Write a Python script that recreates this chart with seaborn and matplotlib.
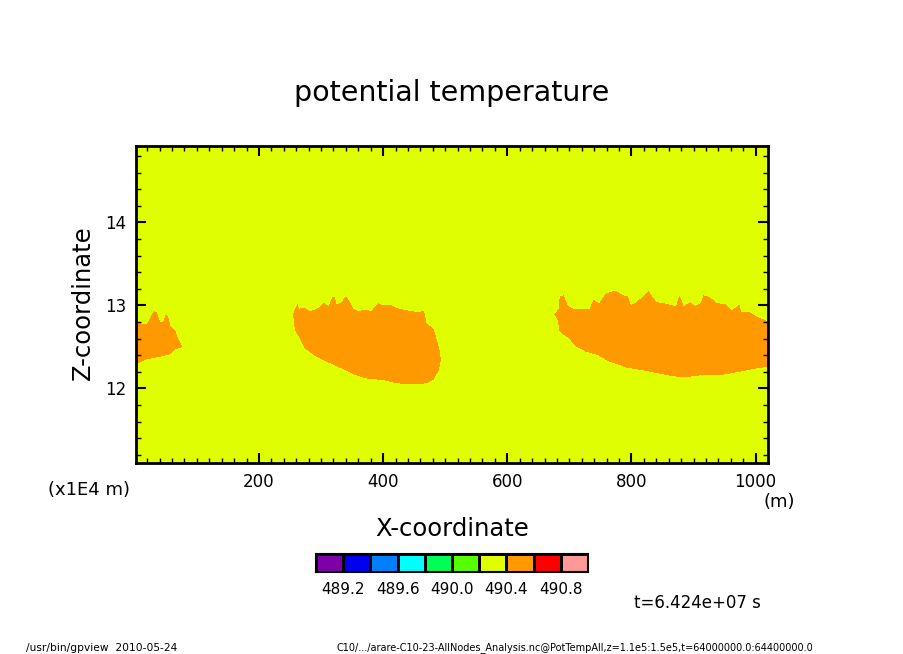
"""
plot.py - gpview style section of potential temperature, drawn with seaborn.
"""
import matplotlib
matplotlib.use("Agg")
import matplotlib.pyplot as plt
import numpy as np
import seaborn as sns
from matplotlib.colors import ListedColormap
from matplotlib.path import Path

TITLE = "potential temperature"
X_LABEL = "X-coordinate"
Z_LABEL = "Z-coordinate"
X_RANGE = (2.0, 1020.0)
Z_RANGE = (11.1, 14.92)
X_TICKS = [200, 400, 600, 800, 1000]
Z_TICKS = [12, 13, 14]

LEVELS = [489.0, 489.2, 489.4, 489.6, 489.8, 490.0, 490.2, 490.4, 490.6, 490.8, 491.0]
LEVEL_LABELS = ["489.2", "489.6", "490.0", "490.4", "490.8"]
LEVEL_COLORS = ["#7f00a8", "#0000ee", "#0080ff", "#00ffff", "#00ff55",
                "#55ff00", "#dfff00", "#ff9900", "#ff0000", "#ff9999"]

# background and warm patch values of the field
THETA_BACKGROUND = 490.3
THETA_PATCH = 490.5

# outlines of the 490.4-490.6 patches (x in m, z in 1E4 m)
PATCH1_X = [2, 19, 25, 31, 36, 41, 46, 50, 54, 57, 65, 70, 77,
            65, 57, 46, 33, 19, 2]
PATCH1_Z = [12.79, 12.77, 12.86, 12.93, 12.91, 12.80, 12.80, 12.90, 12.86, 12.76, 12.70, 12.60, 12.50,
            12.47, 12.41, 12.39, 12.37, 12.35, 12.29]

PATCH2_X = [255, 262, 265, 274, 282, 291, 298, 305, 312, 319, 322, 325, 333, 340, 345, 352,
            360, 371, 381, 392, 398, 411, 422, 438, 454, 466, 470, 481, 486, 491, 493, 490,
            481, 470, 448, 422, 400, 371, 352, 330, 309, 290, 274, 266, 258, 256]
PATCH2_Z = [12.90, 13.02, 12.96, 12.97, 12.93, 12.95, 12.98, 13.03, 12.99, 13.11, 13.10, 13.01,
            13.04, 13.11, 13.06, 12.96, 12.93, 12.95, 12.93, 13.03, 13.00, 13.01, 12.97, 12.94,
            12.92, 12.93, 12.78, 12.72, 12.60, 12.46, 12.34, 12.22, 12.10, 12.06, 12.05, 12.06,
            12.10, 12.12, 12.17, 12.25, 12.32, 12.39, 12.48, 12.60, 12.70, 12.82]

PATCH3_X = [676, 683, 684.5, 691, 698, 706, 732, 739, 748, 758, 775, 786, 794.5, 799, 808, 819,
            828, 840, 856, 872, 877, 880, 884, 895, 903, 912, 916, 926, 937, 953, 962, 974, 977,
            990, 1006, 1020, 1020, 1001, 974, 945, 915, 883, 856, 824, 792, 762, 746, 727, 711,
            698, 684.5, 681]
PATCH3_Z = [12.89, 12.96, 13.11, 13.12, 12.99, 12.96, 12.95, 13.07, 13.02, 13.14, 13.18, 13.12,
            13.11, 13.00, 13.04, 13.11, 13.17, 13.04, 13.02, 12.99, 13.12, 13.08, 12.99, 13.04,
            12.99, 13.03, 13.12, 13.10, 13.03, 13.01, 12.94, 13.01, 12.92, 12.92, 12.85, 12.81,
            12.26, 12.24, 12.20, 12.16, 12.16, 12.13, 12.16, 12.21, 12.25, 12.33, 12.40, 12.44,
            12.50, 12.61, 12.68, 12.82]

W, H = 904, 654
NX, NZ = 632, 317


def build_field():
    xs = X_RANGE[0] + (np.arange(NX) + 0.5) / NX * (X_RANGE[1] - X_RANGE[0])
    zs = Z_RANGE[0] + (np.arange(NZ) + 0.5) / NZ * (Z_RANGE[1] - Z_RANGE[0])
    xx, zz = np.meshgrid(xs, zs)
    points = np.column_stack([xx.ravel(), zz.ravel()])
    field = np.full(xx.shape, THETA_BACKGROUND)
    for px, pz in [(PATCH1_X, PATCH1_Z), (PATCH2_X, PATCH2_Z), (PATCH3_X, PATCH3_Z)]:
        inside = Path(np.column_stack([px, pz])).contains_points(points)
        field[inside.reshape(xx.shape)] = THETA_PATCH
    return field


def x_cell(x):
    return (np.asarray(x, dtype=float) - X_RANGE[0]) / (X_RANGE[1] - X_RANGE[0]) * NX


def z_cell(z):
    return (np.asarray(z, dtype=float) - Z_RANGE[0]) / (Z_RANGE[1] - Z_RANGE[0]) * NZ


def axes_px(fig, left, top, right, bottom):
    return fig.add_axes([left / W, 1 - bottom / H, (right - left) / W, (bottom - top) / H])


def label_px(fig, x, y, s, size, **kw):
    kw.setdefault("ha", "center")
    fig.text(x / W, 1 - y / H, s, fontsize=size, va="center", color="black", **kw)


sns.set_theme(style="ticks", rc={"text.color": "black", "xtick.color": "black", "ytick.color": "black"})

fig = plt.figure(figsize=(W / 100, H / 100), dpi=100, facecolor="white")
cmap = ListedColormap(LEVEL_COLORS)

# main section
ax = axes_px(fig, 136, 146, 768, 463)
sns.heatmap(build_field(), ax=ax, cmap=cmap, vmin=LEVELS[0], vmax=LEVELS[-1], cbar=False,
            xticklabels=False, yticklabels=False)
ax.set_xlim(0, NX)
ax.set_ylim(0, NZ)
ax.set_axisbelow(False)

ax.set_xticks(x_cell(X_TICKS))
ax.set_xticklabels([str(t) for t in X_TICKS], fontsize=12, rotation=0)
ax.set_xticks(x_cell(np.arange(20, 1020, 20)), minor=True)
ax.set_yticks(z_cell(Z_TICKS))
ax.set_yticklabels([str(t) for t in Z_TICKS], fontsize=12, rotation=0)
ax.set_yticks(z_cell(np.arange(11.2, 14.9, 0.2)), minor=True)
ax.tick_params(which="major", direction="in", top=True, right=True, length=7, width=1.5, pad=7)
ax.tick_params(which="minor", direction="in", top=True, right=True, length=3.5, width=1.0)
for spine in ax.spines.values():
    spine.set_visible(True)
    spine.set_linewidth(2)
    spine.set_color("black")

# colour key
cax = axes_px(fig, 316, 554, 588, 572)
mids = np.array(LEVELS[:-1]) + 0.1
sns.heatmap(mids.reshape(1, -1), ax=cax, cmap=cmap, vmin=LEVELS[0], vmax=LEVELS[-1], cbar=False,
            linewidths=0.8, linecolor="black", xticklabels=False, yticklabels=False)
cax.set_xticks(np.arange(1, 10, 2))
cax.set_xticklabels(LEVEL_LABELS, fontsize=11, rotation=0)
cax.set_yticks([])
cax.tick_params(axis="x", length=0, pad=7)
for spine in cax.spines.values():
    spine.set_visible(True)
    spine.set_linewidth(1.5)
    spine.set_color("black")

label_px(fig, 452, 93, TITLE, 20.5)
label_px(fig, 452, 529, X_LABEL, 17.5)
label_px(fig, 83, 303, Z_LABEL, 17.5, rotation=90)
label_px(fig, 89, 490, "(x1E4 m)", 13)
label_px(fig, 779, 502, "(m)", 13)
label_px(fig, 697, 603, "t=6.424e+07 s", 12)
label_px(fig, 102, 648, "/usr/bin/gpview  2010-05-24", 7.7)
label_px(fig, 575, 648, "C10/.../arare-C10-23-AllNodes_Analysis.nc@PotTempAll,z=1.1e5:1.5e5,t=64000000.0:64400000.0", 7.0)

fig.savefig("out.png", dpi=100, facecolor="white")
